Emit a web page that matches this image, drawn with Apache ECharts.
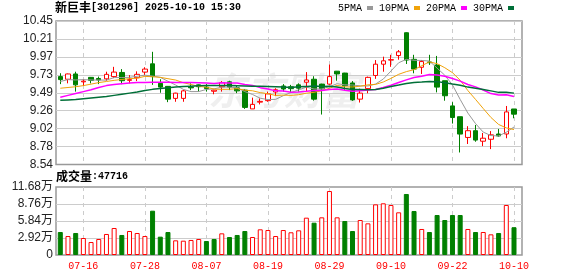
<!DOCTYPE html>
<html><head><meta charset="utf-8">
<script src="https://cdn.jsdelivr.net/npm/echarts@6/dist/echarts.min.js"></script>
<style>html,body{margin:0;padding:0;background:#fff}#c{width:578px;height:276px}</style>
</head><body><div id="c"></div>
<script>
const stockName = '新巨丰';
const stockCode = '301296';
const stamp = '2025-10-10 15:30';
const dates = ['07-11','07-14','07-15','07-16','07-17','07-18','07-21','07-22','07-23','07-24','07-25','07-28','07-29','07-30','07-31',
'08-01','08-04','08-05','08-06','08-07','08-08','08-11','08-12','08-13','08-14','08-15','08-18','08-19','08-20','08-21','08-22','08-25','08-26','08-27','08-28','08-29',
'09-01','09-02','09-03','09-04','09-05','09-08','09-09','09-10','09-11','09-12','09-15','09-16','09-17','09-18','09-19','09-22','09-23','09-24','09-25','09-26','09-29','09-30',
'10-09','10-10'];
const opens = [9.71,9.675,9.745,9.64,9.70,9.685,9.68,9.71,9.765,9.66,
9.695,9.77,9.88,9.62,9.58,9.42,9.42,9.57,9.60,9.57,
9.515,9.575,9.64,9.56,9.53,9.28,9.37,9.39,9.505,9.585,
9.575,9.60,9.635,9.675,9.61,9.61,9.782,9.757,9.625,9.41,
9.55,9.725,9.875,9.93,9.99,10.294,9.94,9.834,9.905,9.864,
9.655,9.32,9.176,8.90,8.99,8.85,8.876,8.946,8.946,9.279];
const closes = [9.67,9.745,9.60,9.65,9.66,9.665,9.74,9.77,9.655,9.67,
9.74,9.81,9.71,9.57,9.41,9.49,9.52,9.56,9.575,9.55,
9.53,9.63,9.57,9.52,9.30,9.34,9.38,9.48,9.535,9.545,
9.55,9.556,9.665,9.41,9.545,9.71,9.745,9.59,9.40,9.49,
9.70,9.875,9.92,9.935,10.04,9.93,9.81,9.91,9.895,9.57,
9.455,9.165,8.945,8.99,8.865,8.89,8.935,8.92,9.24,9.21];
const lows = [9.61,9.62,9.51,9.585,9.62,9.61,9.655,9.69,9.61,9.62,
9.65,9.73,9.60,9.495,9.37,9.375,9.375,9.53,9.51,9.51,
9.475,9.51,9.53,9.49,9.28,9.28,9.34,9.375,9.45,9.51,
9.495,9.51,9.51,9.39,9.205,9.60,9.655,9.535,9.387,9.365,
9.488,9.68,9.775,9.84,9.935,9.878,9.754,9.745,9.865,9.50,
9.389,9.085,8.70,8.813,8.843,8.785,8.745,8.91,8.889,9.155];
const highs = [9.755,9.75,9.775,9.675,9.705,9.71,9.775,9.84,9.81,9.73,
9.78,9.835,10.04,9.675,9.585,9.495,9.535,9.62,9.605,9.61,
9.535,9.65,9.655,9.585,9.54,9.43,9.42,9.51,9.555,9.61,
9.60,9.62,9.77,9.715,9.615,9.87,9.785,9.76,9.65,9.55,
9.71,9.93,9.975,10.0,10.064,10.30,10.0,9.931,10.0,9.985,
9.655,9.37,9.176,9.05,9.066,8.96,8.985,9.013,9.319,9.279];
const volumes = [39500,32600,37800,29200,22300,27500,36100,46400,34400,41200,
37800,32600,76100,31500,39500,25200,24600,25800,27500,24000,
27500,37200,30900,34400,41200,30900,44100,42900,32600,42900,
39000,42400,64100,55500,64700,109900,64700,58400,41200,60100,
54400,87000,88800,85900,73300,104800,75600,44700,39500,68700,
60100,68700,68700,44700,39500,39500,35500,37800,85900,47716];
const ma5 = [9.645,9.67,9.665,9.67,9.665,9.664,9.663,9.697,9.698,9.70,
9.715,9.729,9.717,9.70,9.648,9.598,9.54,9.51,9.511,9.539,
9.547,9.569,9.571,9.56,9.51,9.472,9.422,9.404,9.407,9.456,
9.498,9.533,9.570,9.545,9.545,9.577,9.615,9.60,9.598,9.587,
9.585,9.611,9.677,9.784,9.894,9.94,9.927,9.925,9.917,9.823,
9.728,9.599,9.406,9.225,9.084,8.971,8.925,8.92,8.97,9.039];
const ma10 = [9.555,9.565,9.575,9.59,9.61,9.63,9.645,9.66,9.672,9.682,
9.689,9.713,9.708,9.70,9.682,9.664,9.629,9.605,9.580,9.569,
9.544,9.540,9.541,9.550,9.529,9.521,9.497,9.482,9.459,9.464,
9.46,9.469,9.489,9.501,9.522,9.555,9.593,9.573,9.572,9.582,
9.60,9.606,9.638,9.686,9.740,9.776,9.802,9.855,9.906,9.882,
9.828,9.762,9.662,9.524,9.406,9.285,9.166,9.073,9.027,9.005];
const ma20 = [9.434,9.46,9.485,9.51,9.535,9.565,9.59,9.605,9.615,9.625,
9.63,9.633,9.635,9.635,9.634,9.632,9.632,9.63,9.628,9.626,
9.617,9.627,9.625,9.625,9.606,9.593,9.563,9.544,9.520,9.517,
9.502,9.505,9.515,9.526,9.526,9.538,9.545,9.528,9.516,9.523,
9.53,9.538,9.564,9.594,9.631,9.666,9.698,9.714,9.739,9.732,
9.714,9.684,9.65,9.605,9.573,9.531,9.484,9.464,9.467,9.444];
const ma30 = [9.395,9.40,9.405,9.415,9.425,9.435,9.445,9.46,9.475,9.49,
9.505,9.525,9.54,9.55,9.56,9.57,9.578,9.583,9.588,9.59,
9.59,9.59,9.59,9.588,9.585,9.582,9.58,9.578,9.576,9.572,
9.564,9.574,9.579,9.584,9.578,9.58,9.573,9.553,9.537,9.538,
9.535,9.538,9.556,9.579,9.597,9.617,9.631,9.637,9.646,9.643,
9.629,9.612,9.596,9.570,9.556,9.539,9.520,9.50,9.502,9.49];
const maNames = ['5PMA','10PMA','20PMA','30PMA'];
const priceTickLabels = ['8.54','8.78','9.02','9.26','9.49','9.73','9.97','10.21','10.45'];
const volTickLabels = ['0','2.92万','5.84万','8.76万','11.68万'];

const pMin = 8.54, pMax = 10.45, pInt = (pMax - pMin) / 8;
const vMax = 116800, vInt = 29200;
const maColors = ['#999999','#f0a30a','#ff00ff','#006f38'];
const maWidths = [1, 1, 1.5, 1.5];
const labelEvery = (i) => i % 8 === 3;

const candleData = opens.map((o, i) => [o, closes[i], lows[i], highs[i]]);
const volData = volumes.map((v, i) => {
  const up = i === 0 ? closes[i] >= opens[i] : closes[i] >= closes[i - 1];
  return { value: v, itemStyle: up ? { color: '#ffffff', borderColor: '#ff0000', borderWidth: 1 } : { color: '#008000', borderColor: '#008000', borderWidth: 1 } };
});

const chart = echarts.init(document.getElementById('c'), null, { renderer: 'canvas' });
const frameBorder = { show: true, borderColor: '#999', borderWidth: 1.5, backgroundColor: 'transparent' };
const dashed = { show: true, interval: labelEvery, lineStyle: { color: '#cccccc', type: [4, 4], width: 1 } };
const ascii = "'Liberation Mono', monospace";
const cjk = "'Noto Sans CJK SC'";
chart.setOption({
  animation: false,
  backgroundColor: '#fff',
  title: [
    { text: '{zh|' + stockName + '}{en|[' + stockCode + '] ' + stamp + '}', left: 55, top: 1, padding: 0,
      textStyle: { rich: { zh: { fontFamily: cjk, fontSize: 12, color: '#000' }, en: { fontFamily: ascii, fontSize: 10, color: '#000' } } } },
    { text: '{zh|成交量}{en|:' + volumes[volumes.length - 1] + '}', left: 56, top: 170, padding: 0,
      textStyle: { rich: { zh: { fontFamily: cjk, fontSize: 12, color: '#000' }, en: { fontFamily: ascii, fontSize: 10, color: '#000' } } } }
  ],
  legend: {
    data: maNames, left: 338, top: 3, padding: 0, align: 'right', icon: 'rect',
    itemWidth: 6, itemHeight: 4, itemGap: 6,
    textStyle: { fontFamily: ascii, fontSize: 10, color: '#000' }
  },
  graphic: [{
    type: 'text', left: 208, top: 72, silent: true, z: -10,
    style: { text: '东方财富', font: 'italic bold 38px "Noto Sans CJK SC"', fill: 'rgba(120,120,120,0.12)' }
  }],
  grid: [
    Object.assign({ left: 56, right: 56, top: 21, height: 143.5 }, frameBorder),
    { left: 60.3, right: 64, top: 21, height: 143.5 },
    Object.assign({ left: 56, right: 56, top: 187, height: 68 }, frameBorder),
    { left: 60.3, right: 64, top: 187, height: 68 }
  ],
  xAxis: [
    { gridIndex: 0, type: 'value', show: false, min: 0, max: 1 },
    { gridIndex: 1, type: 'category', data: dates, boundaryGap: false, axisLine: { show: false }, axisTick: { show: false },
      axisLabel: { show: false }, splitLine: dashed },
    { gridIndex: 2, type: 'value', show: false, min: 0, max: 1 },
    { gridIndex: 3, type: 'category', data: dates, boundaryGap: false, axisLine: { show: false }, axisTick: { show: false },
      axisLabel: { interval: labelEvery, color: '#ff0000', fontFamily: ascii, fontSize: 10, margin: 6 }, splitLine: dashed }
  ],
  yAxis: [
    { gridIndex: 0, type: 'value', min: pMin, max: pMax, interval: pInt, axisLine: { show: false }, axisTick: { show: false },
      axisLabel: { color: '#222', fontFamily: "'Liberation Sans', Arial", fontSize: 12, margin: 3,
        formatter: (v) => priceTickLabels[Math.round((v - pMin) / pInt)] || '' },
      splitLine: { lineStyle: { color: '#cccccc', width: 1 }, showMinLine: false, showMaxLine: false } },
    { gridIndex: 1, type: 'value', min: pMin, max: pMax, show: false, splitLine: { show: false } },
    { gridIndex: 2, type: 'value', min: 0, max: vMax, interval: vInt, axisLine: { show: false }, axisTick: { show: false },
      axisLabel: { color: '#222', fontFamily: "'Liberation Sans', 'Noto Sans CJK SC'", fontSize: 12, margin: 3,
        formatter: (v) => volTickLabels[Math.round(v / vInt)] || '' },
      splitLine: { lineStyle: { color: '#cccccc', width: 1 }, showMinLine: false, showMaxLine: false } },
    { gridIndex: 3, type: 'value', min: 0, max: vMax, show: false, splitLine: { show: false } }
  ],
  series: [
    { type: 'candlestick', xAxisIndex: 1, yAxisIndex: 1, data: candleData, barWidth: 5, clip: false,
      itemStyle: { color: '#ffffff', color0: '#008000', borderColor: '#ff0000', borderColor0: '#008000', borderWidth: 1 } },
    ...[ma5, ma10, ma20, ma30].map((arr, k) => ({
      name: maNames[k], type: 'line', xAxisIndex: 1, yAxisIndex: 1, data: arr, showSymbol: false, symbol: 'none',
      silent: true, color: maColors[k], lineStyle: { color: maColors[k], width: maWidths[k] }, z: 3
    })),
    { type: 'bar', xAxisIndex: 3, yAxisIndex: 3, data: volData, barWidth: 5, clip: false }
  ]
});
</script></body></html>
